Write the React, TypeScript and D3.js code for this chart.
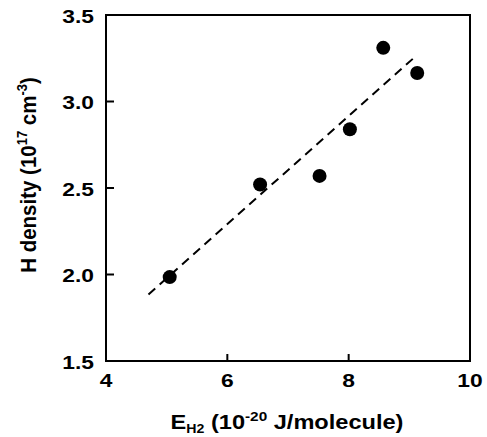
import React from "react";
import * as d3 from "d3";

const energies = [5.05, 6.54, 7.52, 8.02, 8.57, 9.13];
const densities = [1.985, 2.52, 2.57, 2.84, 3.31, 3.165];
const fitX = [4.7, 9.1];
const fitY = [1.885, 3.26];
const xTicks = [4, 6, 8, 10];
const yTicks = [1.5, 2.0, 2.5, 3.0, 3.5];

const W = 487;
const H = 437;
const left = 106, right = 470, top = 15, bottom = 361;
const SX = 1.2;

export default function App() {
  const x = d3.scaleLinear().domain([4, 10]).range([left, right]);
  const y = d3.scaleLinear().domain([1.5, 3.5]).range([bottom, top]);
  const line = d3.line<number>().x((d) => x(fitX[d])).y((d) => y(fitY[d]));
  const font = "'Liberation Sans', Arial, sans-serif";
  return (
    <div style={{ position: "absolute", left: 0, top: 0 }}>
      <svg width={W} height={H} style={{ display: "block", background: "#fff" }} fontFamily={font} fontWeight="bold">
        <rect x={left} y={top} width={right - left} height={bottom - top} fill="none" stroke="#000" strokeWidth={2} />
        {xTicks.map((t) => (
          <g key={"x" + t}>
            <line x1={x(t)} x2={x(t)} y1={bottom} y2={bottom - 7} stroke="#000" strokeWidth={2} />
            <text transform={`translate(${x(t)},387) scale(${SX},1)`} textAnchor="middle" fontSize={19}>{t}</text>
          </g>
        ))}
        {yTicks.map((t) => (
          <g key={"y" + t}>
            <line x1={left} x2={left + 8} y1={y(t)} y2={y(t)} stroke="#000" strokeWidth={2} />
            <text transform={`translate(${left - 12},${y(t) + 7.5}) scale(${SX},1)`} textAnchor="end" fontSize={19}>{t.toFixed(1)}</text>
          </g>
        ))}
        <path d={line([0, 1]) || ""} fill="none" stroke="#000" strokeWidth={2} strokeDasharray="9,6" />
        {energies.map((e, i) => (
          <circle key={i} cx={x(e)} cy={y(densities[i])} r={7} fill="#000" />
        ))}
        <text transform={`translate(${(left + right) / 2 - 1},429) scale(1.18,1)`} textAnchor="middle" fontSize={20}>
          E<tspan fontSize={12} dy={4}>H2</tspan>
          <tspan dy={-4}> (10</tspan>
          <tspan fontSize={13} dy={-8}>-20</tspan>
          <tspan dy={8}> J/molecule)</tspan>
        </text>
        <text transform={`translate(36,175) scale(1.08,1) rotate(-90)`} textAnchor="middle" fontSize={20.5}>
          H density (10<tspan fontSize={13} dy={-8}>17</tspan>
          <tspan dy={8}> cm</tspan>
          <tspan fontSize={13} dy={-8}>-3</tspan>
          <tspan dy={8}>)</tspan>
        </text>
      </svg>
    </div>
  );
}
